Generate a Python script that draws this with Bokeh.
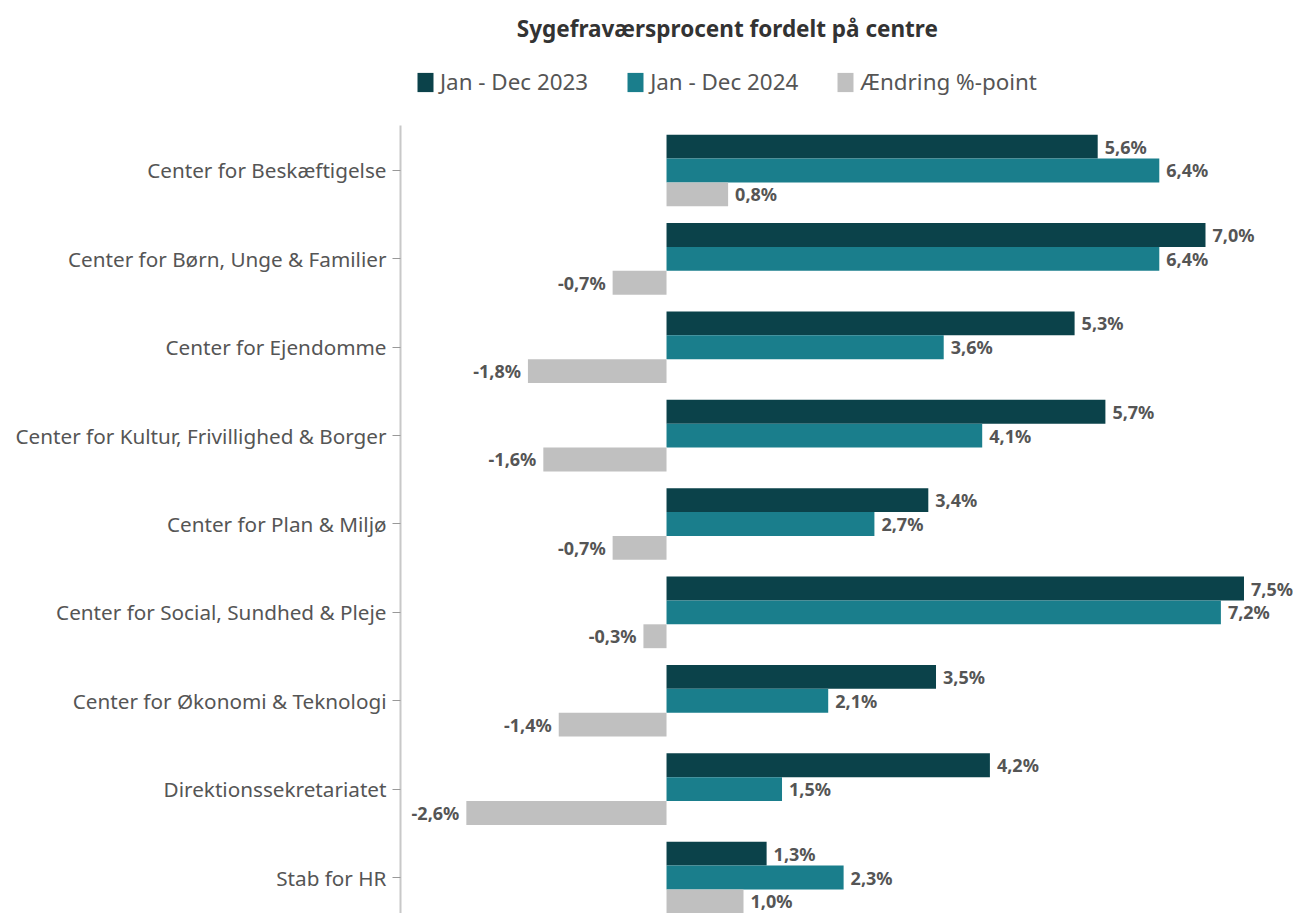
from bokeh.plotting import figure
from bokeh.models import ColumnDataSource, Range1d, FixedTicker, Legend, LegendItem, Label
from bokeh.core.properties import value
from bokeh.embed import file_html
from bokeh.resources import INLINE

categories = [
    "Center for Beskæftigelse",
    "Center for Børn, Unge & Familier",
    "Center for Ejendomme",
    "Center for Kultur, Frivillighed & Borger",
    "Center for Plan & Miljø",
    "Center for Social, Sundhed & Pleje",
    "Center for Økonomi & Teknologi",
    "Direktionssekretariatet",
    "Stab for HR",
]
jan_dec_2023 = [5.6, 7.0, 5.3, 5.7, 3.4, 7.5, 3.5, 4.2, 1.3]
jan_dec_2024 = [6.4, 6.4, 3.6, 4.1, 2.7, 7.2, 2.1, 1.5, 2.3]
aendring = [0.8, -0.7, -1.8, -1.6, -0.7, -0.3, -1.4, -2.6, 1.0]
series_names = ["Jan - Dec 2023", "Jan - Dec 2024", "Ændring %-point"]
title_text = "Sygefraværsprocent fordelt på centre"
colors = ["#0b424a", "#1a7e8c", "#c0c0c0"]

FONT = "Noto Sans"

W, H = 1293, 913
LEFT = 400
Y_TOP = -1.923
Y_BOT = 8.407
p = figure(width=W, height=H, output_backend="svg", toolbar_location=None,
           x_range=Range1d(-3.455, 8.143), y_range=Range1d(Y_BOT, Y_TOP),
           x_axis_location=None,
           min_border_left=LEFT, min_border_right=0, min_border_top=0, min_border_bottom=0)
p.outline_line_color = None
p.xgrid.visible = False
p.ygrid.visible = False

offs = [-0.27, 0.0, 0.27]
h = 0.27
items = []
for k, vals in enumerate([jan_dec_2023, jan_dec_2024, aendring]):
    ys = [i + offs[k] for i in range(len(categories))]
    labels = [("%.1f%%" % v).replace(".", ",") for v in vals]
    src = ColumnDataSource(dict(y=ys, v=vals, lab=labels,
                                align=["left" if v >= 0 else "right" for v in vals],
                                xo=[7 if v >= 0 else -7 for v in vals]))
    r = p.hbar(y="y", left=0, right="v", height=h, source=src, fill_color=colors[k], line_color=None)
    p.text(x="v", y="y", text="lab", source=src, text_align="align", x_offset="xo",
           text_baseline="middle", text_font=value(FONT), text_font_size="18px",
           text_font_style="bold", text_color="#555555")
    items.append(LegendItem(label=series_names[k], renderers=[r]))

ax = p.yaxis[0]
ax.ticker = FixedTicker(ticks=list(range(len(categories))))
ax.major_label_overrides = {i: c for i, c in enumerate(categories)}
ax.bounds = (-0.509, Y_BOT)
ax.major_label_text_font = FONT
ax.major_label_text_font_size = "20.7px"
ax.major_label_text_color = "#555555"
ax.axis_line_color = "#c8c8c8"
ax.axis_line_width = 2
ax.major_tick_line_color = "#999999"
ax.major_tick_in = 0
ax.major_tick_out = 8
ax.minor_tick_line_color = None
ax.major_label_standoff = 6

legend = Legend(items=items, orientation="horizontal", location=(15, 816),
                glyph_width=20, glyph_height=24, label_standoff=5, spacing=37,
                label_text_font=FONT, label_text_font_size="22.4px", label_text_color="#555555",
                border_line_color=None, background_fill_alpha=0, padding=0, margin=0)
p.add_layout(legend, "center")

title = Label(x=0.79, y=-1.606, text=title_text, text_align="center", text_baseline="middle",
              text_font=FONT, text_font_size="22.5px", text_font_style="bold", text_color="#333333")
p.add_layout(title)

open("out.html", "w").write(file_html(p, INLINE))
